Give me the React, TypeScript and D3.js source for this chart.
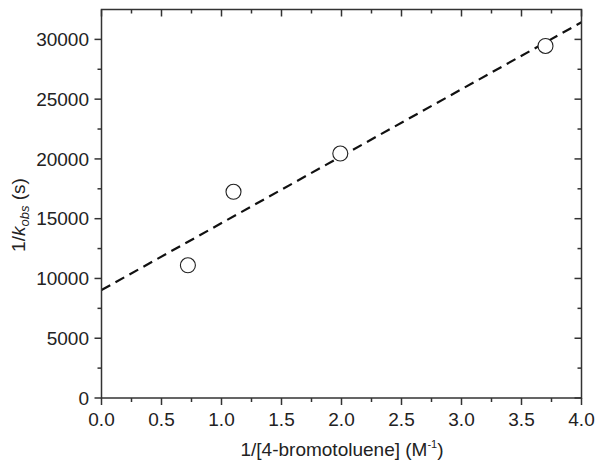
import React, { useRef, useEffect } from 'react';
import * as d3 from 'd3';

// measured points: 1/[4-bromotoluene] (M^-1) vs 1/k_obs (s)
const invConc = [0.72, 1.1, 1.99, 3.7];
const invK = [11100, 17250, 20450, 29450];

// linear fit parameters
const fitIntercept = 9030;
const fitSlope = 5600;
const fitRange = [0, 4];

const xTicks = [0, 0.5, 1, 1.5, 2, 2.5, 3, 3.5, 4];
const yTicks = [0, 5000, 10000, 15000, 20000, 25000, 30000];

function App() {
  const ref = useRef<SVGSVGElement>(null);

  useEffect(() => {
    const svg = d3.select(ref.current);
    svg.selectAll('*').remove();

    const left = 101.5, right = 581.5, top = 9.5, bottom = 398;
    const axisColor = '#333';
    const font = 'Liberation Sans, Arial, sans-serif';

    const x = d3.scaleLinear().domain([0, 4]).range([left, right]);
    const y = d3.scaleLinear().domain([0, 32500]).range([bottom, top]);

    const xMinor = d3.range(0.25, 4, 0.5);
    const yMinor = d3.range(2500, 32500, 5000);

    // fit line
    const line = d3.line<number>().x(d => x(d)).y(d => y(fitIntercept + fitSlope * d));
    svg.append('path')
      .attr('d', line(fitRange))
      .attr('fill', 'none')
      .attr('stroke', '#111')
      .attr('stroke-width', 2.2)
      .attr('stroke-dasharray', '10,6');

    // points
    svg.append('g').selectAll('circle')
      .data(invConc)
      .enter()
      .append('circle')
      .attr('cx', d => x(d))
      .attr('cy', (d, i) => y(invK[i]))
      .attr('r', 7.5)
      .attr('fill', 'white')
      .attr('stroke', '#222')
      .attr('stroke-width', 1.1);

    // frame
    svg.append('rect')
      .attr('x', left).attr('y', top)
      .attr('width', right - left).attr('height', bottom - top)
      .attr('fill', 'none')
      .attr('stroke', axisColor)
      .attr('stroke-width', 1.5);

    const ticks = svg.append('g').attr('stroke', axisColor).attr('stroke-width', 1.5);
    // bottom (outward) and top (inward)
    xTicks.forEach(t => {
      ticks.append('line').attr('x1', x(t)).attr('x2', x(t)).attr('y1', bottom).attr('y2', bottom + 7);
      ticks.append('line').attr('x1', x(t)).attr('x2', x(t)).attr('y1', top).attr('y2', top + 7);
    });
    xMinor.forEach(t => {
      ticks.append('line').attr('x1', x(t)).attr('x2', x(t)).attr('y1', bottom).attr('y2', bottom + 4);
      ticks.append('line').attr('x1', x(t)).attr('x2', x(t)).attr('y1', top).attr('y2', top + 4);
    });
    // left (outward) and right (inward)
    yTicks.forEach(t => {
      ticks.append('line').attr('x1', left - 7).attr('x2', left).attr('y1', y(t)).attr('y2', y(t));
      ticks.append('line').attr('x1', right - 7).attr('x2', right).attr('y1', y(t)).attr('y2', y(t));
    });
    yMinor.forEach(t => {
      ticks.append('line').attr('x1', left - 4).attr('x2', left).attr('y1', y(t)).attr('y2', y(t));
      ticks.append('line').attr('x1', right - 4).attr('x2', right).attr('y1', y(t)).attr('y2', y(t));
    });

    // tick labels
    svg.append('g').selectAll('text')
      .data(xTicks)
      .enter()
      .append('text')
      .attr('x', d => x(d))
      .attr('y', 426)
      .attr('text-anchor', 'middle')
      .attr('font-family', font)
      .attr('font-size', 19)
      .attr('fill', '#222')
      .text(d => d.toFixed(1));

    svg.append('g').selectAll('text')
      .data(yTicks)
      .enter()
      .append('text')
      .attr('x', 89)
      .attr('y', d => y(d) + 6.8)
      .attr('text-anchor', 'end')
      .attr('font-family', font)
      .attr('font-size', 19)
      .attr('fill', '#222')
      .text(d => String(d));

    // x title
    const xt = svg.append('text')
      .attr('x', 342)
      .attr('y', 456)
      .attr('text-anchor', 'middle')
      .attr('font-family', font)
      .attr('font-size', 19)
      .attr('fill', '#222');
    xt.append('tspan').text('1/[4-bromotoluene] (M');
    xt.append('tspan').attr('font-size', 11).attr('dy', -8).text('-1');
    xt.append('tspan').attr('dy', 8).text(')');

    // y title
    const yt = svg.append('text')
      .attr('transform', `translate(25, 215) rotate(-90)`)
      .attr('text-anchor', 'middle')
      .attr('font-family', font)
      .attr('font-size', 19)
      .attr('fill', '#222');
    yt.append('tspan').text('1/');
    yt.append('tspan').attr('font-style', 'italic').text('k');
    yt.append('tspan').attr('font-style', 'italic').attr('font-size', 13).attr('dy', 4).text('obs');
    yt.append('tspan').attr('dy', -4).text(' (s)');
  }, []);

  return (
    <svg ref={ref} width={600} height={466}
      style={{ position: 'absolute', left: 0, top: 0, background: 'white' }} />
  );
}

export default App;
